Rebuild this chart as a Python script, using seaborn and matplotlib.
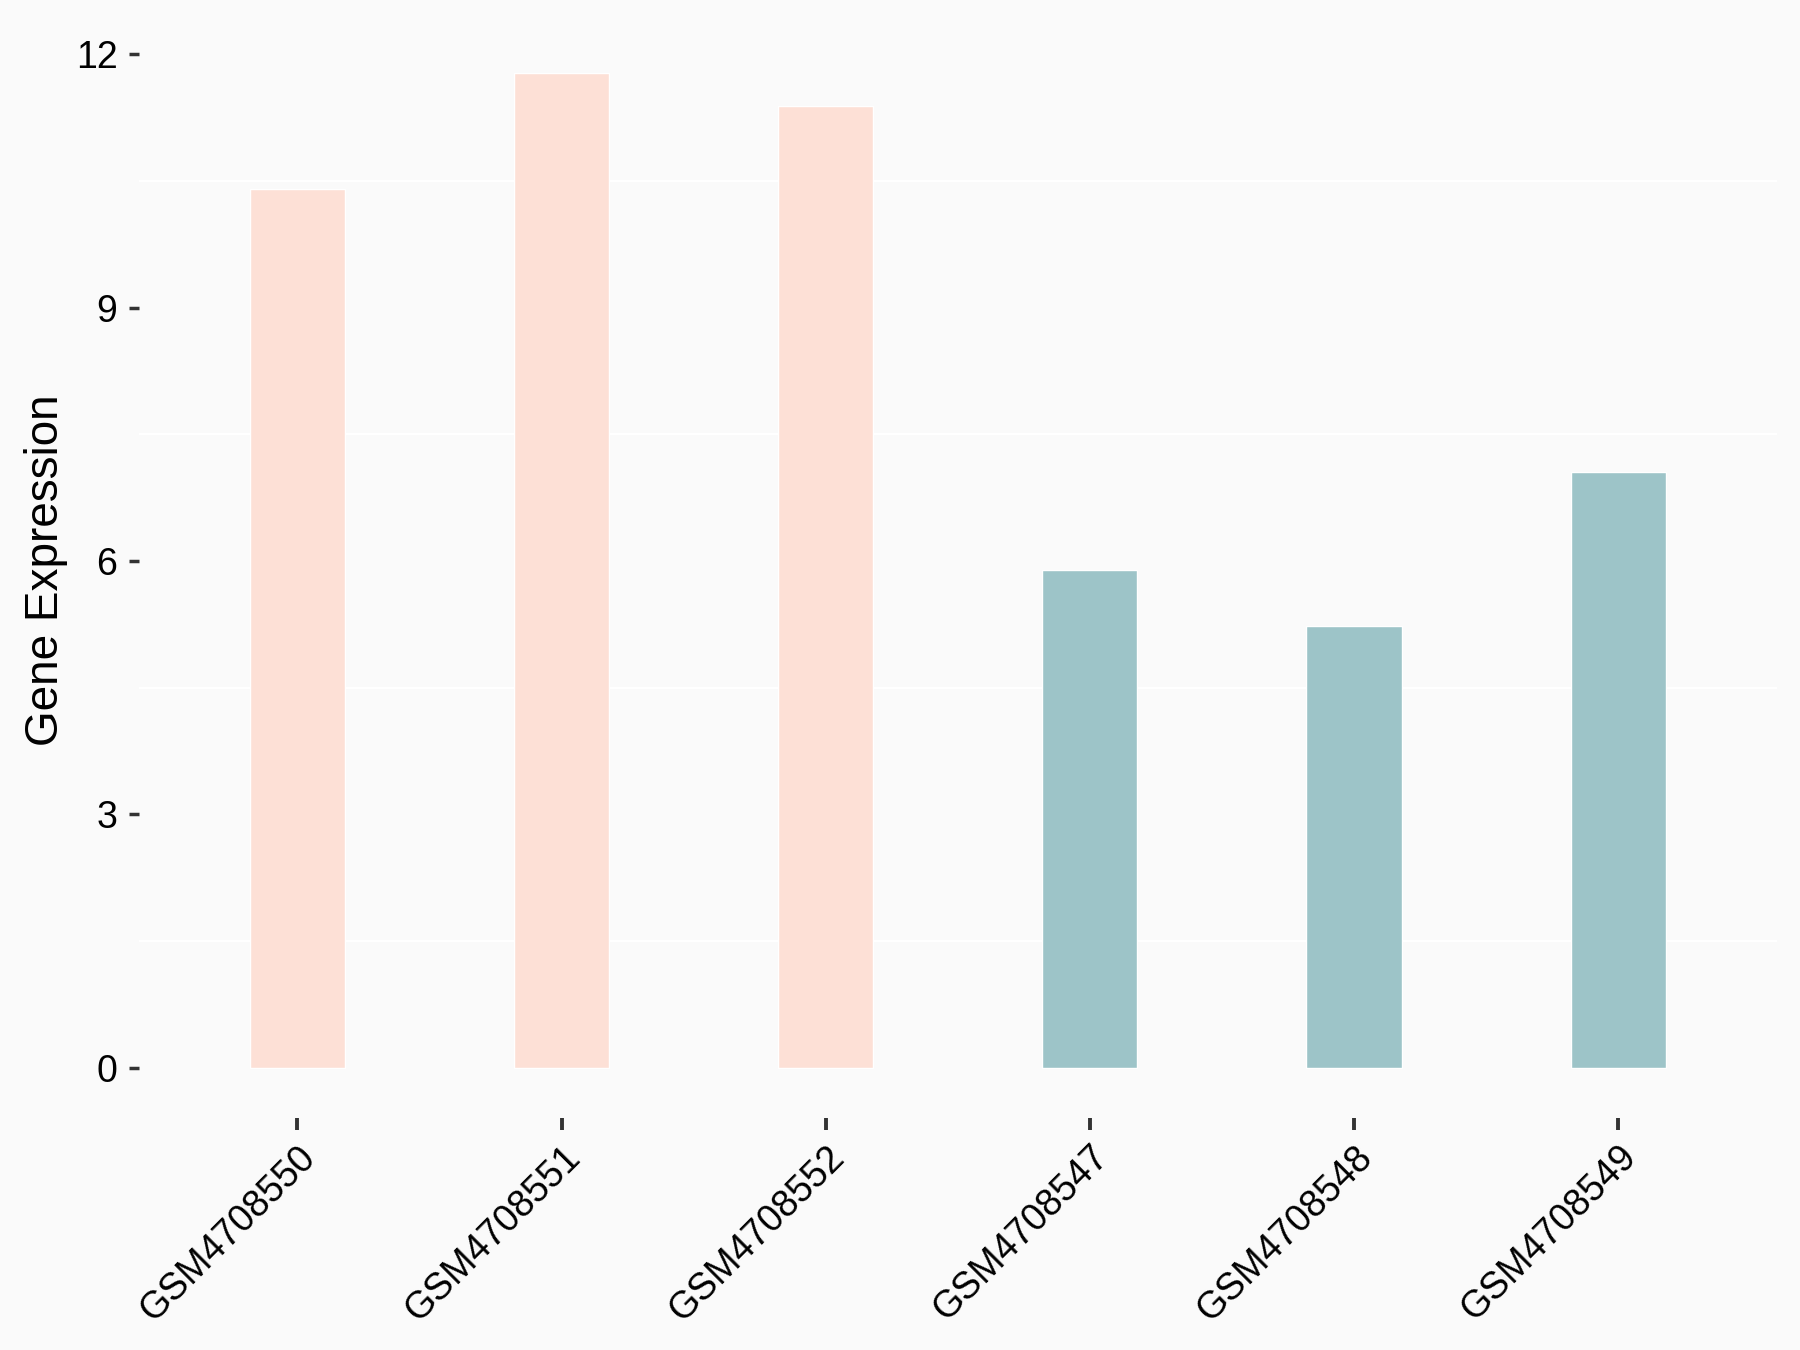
import matplotlib
matplotlib.use("Agg")
import matplotlib.pyplot as plt
import seaborn as sns
import pandas as pd

# sample names, groups and expression values
samples = ["GSM4708550", "GSM4708551", "GSM4708552",
           "GSM4708547", "GSM4708548", "GSM4708549"]
groups = ["A", "A", "A", "B", "B", "B"]
expression = [10.40, 11.78, 11.39, 5.89, 5.23, 7.05]
group_colors = {"A": "#FDE0D6", "B": "#9DC4C8"}

df = pd.DataFrame({"sample": samples, "group": groups, "expr": expression})

sns.set_theme(style="white")
plt.rcParams["font.family"] = ["Liberation Sans", "DejaVu Sans"]

bg = "#FAFAFA"
fig = plt.figure(figsize=(18, 13.5), dpi=100, facecolor=bg)
ax = fig.add_axes([0.0772, 0.1722, 0.9098, 0.8108])
ax.set_facecolor(bg)

sns.barplot(data=df, x="sample", y="expr", hue="group", palette=group_colors,
            order=samples, dodge=False, width=0.36, legend=False,
            saturation=1, ax=ax)

# ggplot-like expansion
ymax = max(expression)
ax.set_ylim(-0.05 * ymax, ymax * 1.05)
ax.set_xlim(-0.6, len(samples) - 0.4)
ax.set_yticks([0, 3, 6, 9, 12])
ax.set_yticks([1.5, 4.5, 7.5, 10.5], minor=True)
ax.grid(False)
ax.grid(True, which="minor", axis="y", color="white", linewidth=1.6)
ax.set_axisbelow(True)

for s in ax.spines.values():
    s.set_visible(False)

ax.tick_params(axis="y", which="major", left=True, length=7.5, width=2.5,
               color="#333333", labelsize=27, labelcolor="black", pad=8)
ax.tick_params(axis="y", which="minor", left=False)
ax.tick_params(axis="x", bottom=True, length=8.5, width=2.8,
               color="#333333", labelsize=27, labelcolor="black", pad=7)

for lab in ax.get_xticklabels():
    lab.set_rotation(45)
    lab.set_ha("right")
    lab.set_va("top")
    lab.set_rotation_mode("anchor")

ax.set_xlabel("")
ax.set_ylabel("Gene Expression", fontsize=33, color="black")
ax.yaxis.set_label_coords(-0.0433, 0.5)

fig.savefig("out.png", dpi=100, facecolor=bg)
